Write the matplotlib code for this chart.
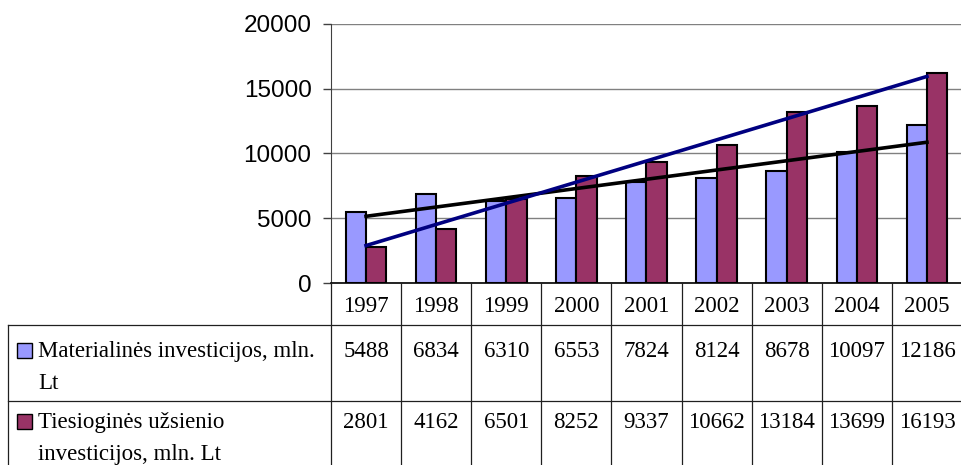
import numpy as np
import matplotlib
matplotlib.use("Agg")
import matplotlib.pyplot as plt
from matplotlib.transforms import blended_transform_factory
from matplotlib.patches import Rectangle
from matplotlib.lines import Line2D

years = ["1997", "1998", "1999", "2000", "2001", "2002", "2003", "2004", "2005"]
materialines = [5488, 6834, 6310, 6553, 7824, 8124, 8678, 10097, 12186]
tiesiogines = [2801, 4162, 6501, 8252, 9337, 10662, 13184, 13699, 16193]
row_labels = ["Materialinės investicijos, mln.\nLt",
              "Tiesioginės užsienio\ninvesticijos, mln. Lt"]
y_ticks = [0, 5000, 10000, 15000, 20000]

W, H = 962, 465
col_mat = "#9999FF"
col_ties = "#993366"

def fy(px):
    # pixel row (from top) -> figure fraction
    return (H - px) / H

fig = plt.figure(figsize=(W / 100, H / 100), dpi=100, facecolor="white")
ax = fig.add_axes([331 / W, fy(283), (W - 331) / W, (283 - 24) / H])

x = np.arange(len(years))
bw = 0.29
ax.bar(x - bw / 2, materialines, bw, color=col_mat, edgecolor="black", linewidth=1.5, zorder=2)
ax.bar(x + bw / 2, tiesiogines, bw, color=col_ties, edgecolor="black", linewidth=1.5, zorder=2)

# linear trend lines (as Excel does)
fit_m = np.polyfit(x, materialines, 1)
fit_t = np.polyfit(x, tiesiogines, 1)
ax.plot(x[[0, -1]], np.polyval(fit_m, x[[0, -1]]), color="black", linewidth=2.6, zorder=3)
ax.plot(x[[0, -1]], np.polyval(fit_t, x[[0, -1]]), color="#000080", linewidth=2.6, zorder=3)

ax.set_xlim(-0.5, len(years) - 0.5)
ax.set_ylim(0, 20000)
ax.set_xticks([])
ax.set_yticks(y_ticks)
ax.set_yticklabels([str(v) for v in y_ticks], fontsize=17.5, family="Liberation Sans")
ax.tick_params(axis="y", length=6, width=1, color="#404040", pad=8)
ax.yaxis.grid(True, color="#808080", linewidth=1)
ax.set_axisbelow(True)
for s in ["top", "right"]:
    ax.spines[s].set_visible(False)
ax.spines["left"].set_color("#404040")
ax.spines["bottom"].set_color("black")
ax.spines["bottom"].set_linewidth(1.2)

# data table below the chart
tr = blended_transform_factory(ax.transData, fig.transFigure)
serif = "Liberation Serif"
fs = 16.5
lc = "#202020"

for i in range(len(years) + 1):
    fig.add_artist(Line2D([i - 0.5, i - 0.5], [0, fy(283)], transform=tr, color=lc, linewidth=0.9))
for py in [325, 401]:
    fig.add_artist(Line2D([8 / W, 1.0], [fy(py), fy(py)], transform=fig.transFigure, color=lc, linewidth=0.9))
fig.add_artist(Line2D([8 / W, 8 / W], [0, fy(325)], transform=fig.transFigure, color=lc, linewidth=0.9))

for i, yr in enumerate(years):
    ax.text(i, fy(312), yr, transform=tr, ha="center", va="baseline", fontsize=fs, family=serif, clip_on=False)
    ax.text(i, fy(357), str(materialines[i]), transform=tr, ha="center", va="baseline", fontsize=fs, family=serif, clip_on=False)
    ax.text(i, fy(428), str(tiesiogines[i]), transform=tr, ha="center", va="baseline", fontsize=fs, family=serif, clip_on=False)

for label, base, color in [(row_labels[0], 357, col_mat), (row_labels[1], 428, col_ties)]:
    fig.add_artist(Rectangle((17 / W, fy(base + 1)), 15 / W, 15 / H, transform=fig.transFigure,
                             facecolor=color, edgecolor="black", linewidth=1))
    lines = label.split("\n")
    for k, ln in enumerate(lines):
        fig.text(38 / W, fy(base + 31.5 * k), ln, ha="left", va="baseline", fontsize=fs, family=serif)

fig.savefig("out.png", dpi=100)
